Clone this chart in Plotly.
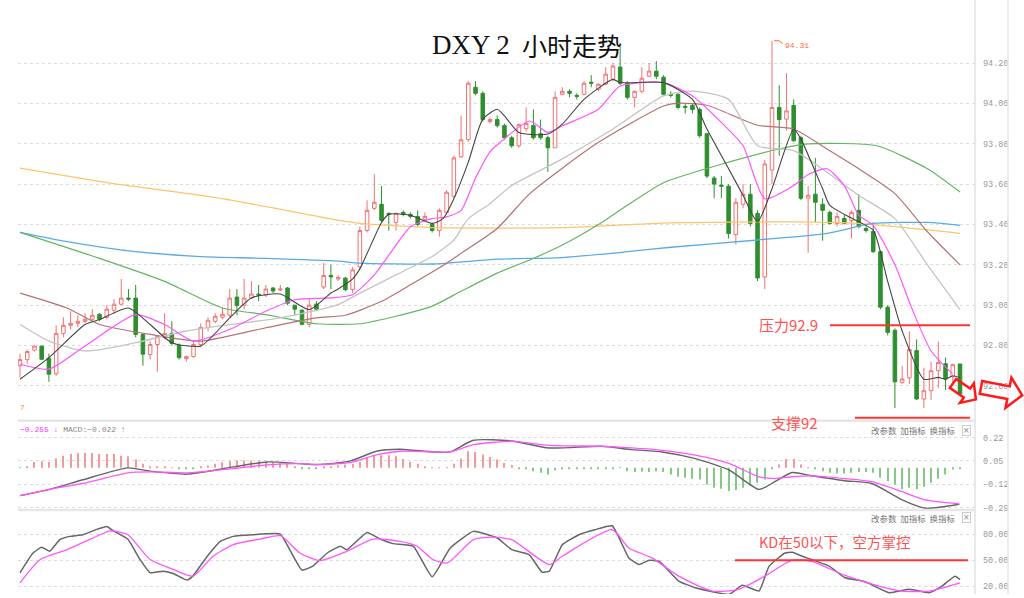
import math
import plotly.graph_objects as go

W, H = 1024, 598

# ---------------- data ----------------
opens = [92.70,92.73,92.777,92.797,92.737,92.66,92.86,92.90,92.91,92.92,
         92.93,92.955,92.94,92.975,93.005,93.035,93.035,92.855,92.755,92.805,
         92.84,92.86,92.80,92.735,92.745,92.805,92.89,92.92,92.94,92.95,
         93.04,93.0,93.035,93.055,93.05,93.085,93.075,93.085,93.0,92.975,
         92.905,93.005,93.09,93.147,93.13,93.134,93.077,93.19,93.37,93.48,
         93.50,93.455,93.41,93.46,93.45,93.44,93.425,93.40,93.37,93.46,
         93.54,93.735,93.82,94.08,94.05,93.91,93.92,93.89,93.83,93.79,
         93.875,93.89,93.85,93.83,93.78,94.045,94.06,94.04,94.045,94.105,
         94.07,94.095,94.12,94.18,94.10,94.03,94.06,94.135,94.16,94.13,
         94.045,94.045,93.985,93.99,93.97,93.85,93.63,93.595,93.59,93.35,
         93.50,93.55,93.455,93.14,93.67,93.98,93.922,93.99,93.83,93.53,
         93.55,93.50,93.46,93.405,93.43,93.42,93.47,93.38,93.365,93.265,
         92.99,92.875,92.617,92.64,92.775,92.535,92.576,92.675,92.71,92.645,
         92.708]
highs = [92.76,92.78,92.80,92.80,92.76,92.90,92.94,92.97,92.95,92.96,
         92.98,92.96,93.00,93.03,93.13,93.08,93.10,92.86,92.82,92.85,
         92.96,92.92,92.81,92.75,92.82,92.91,92.94,92.96,92.99,93.08,
         93.08,93.13,93.12,93.10,93.10,93.09,93.10,93.09,93.0,92.98,
         93.03,93.02,93.21,93.20,93.15,93.14,93.19,93.39,93.52,93.65,
         93.59,93.46,93.46,93.47,93.46,93.47,93.46,93.41,93.48,93.57,
         93.74,93.94,94.11,94.11,94.06,93.93,93.94,93.90,93.84,93.90,
         93.98,93.97,93.92,93.84,94.06,94.08,94.07,94.05,94.11,94.14,
         94.10,94.18,94.20,94.28,94.11,94.065,94.18,94.20,94.21,94.14,
         94.06,94.05,94.0,94.0,93.98,93.85,93.64,93.64,93.60,93.53,
         93.60,93.60,93.47,93.72,94.31,94.09,94.15,94.02,93.84,93.59,
         93.73,93.53,93.47,93.46,93.45,93.47,93.55,93.39,93.41,93.27,
         93.0,92.885,92.70,92.87,92.83,92.69,92.72,92.82,92.74,92.71,
         92.71]
lows = [92.64,92.71,92.77,92.73,92.62,92.65,92.84,92.88,92.89,92.91,
        92.92,92.92,92.93,92.96,93.00,93.02,92.84,92.70,92.73,92.67,
        92.83,92.80,92.73,92.72,92.74,92.79,92.87,92.91,92.93,92.94,
        92.95,92.98,93.03,93.02,93.04,93.06,93.07,93.00,92.95,92.90,
        92.89,92.97,93.08,93.08,93.12,93.07,93.06,93.18,93.36,93.47,
        93.41,93.37,93.37,93.44,93.43,93.39,93.42,93.36,93.34,93.45,
        93.53,93.73,93.81,94.04,93.91,93.90,93.88,93.82,93.78,93.78,
        93.86,93.82,93.82,93.66,93.78,94.04,94.03,94.02,94.04,94.08,
        94.06,94.09,94.11,94.09,94.02,93.98,94.05,94.13,94.12,94.04,
        94.03,93.97,93.95,93.95,93.83,93.63,93.53,93.53,93.33,93.30,
        93.48,93.39,93.12,93.08,93.60,93.74,93.865,93.81,93.52,93.26,
        93.41,93.32,93.40,93.39,93.40,93.33,93.38,93.36,93.26,92.98,
        92.85,92.49,92.61,92.61,92.53,92.49,92.53,92.59,92.58,92.62,
        92.55]
closes = [92.73,92.77,92.797,92.732,92.658,92.86,92.90,92.91,92.92,92.93,
          92.95,92.93,92.98,93.005,93.035,93.03,92.855,92.757,92.805,92.845,
          92.86,92.81,92.74,92.745,92.805,92.89,92.925,92.945,92.955,93.035,
          92.998,93.035,93.055,93.05,93.08,93.07,93.08,93.01,92.98,92.905,
          93.0,92.98,93.147,93.14,93.137,93.077,93.175,93.37,93.47,93.51,
          93.42,93.45,93.455,93.45,93.44,93.40,93.44,93.37,93.47,93.56,
          93.73,93.82,94.10,94.05,93.92,93.92,93.89,93.83,93.79,93.895,
          93.90,93.83,93.83,93.78,94.03,94.06,94.05,94.035,94.10,94.10,
          94.095,94.145,94.185,94.10,94.03,94.06,94.125,94.16,94.135,94.045,
          94.04,93.98,93.98,93.97,93.84,93.64,93.60,93.59,93.355,93.51,
          93.55,93.405,93.135,93.70,93.98,93.92,93.963,93.815,93.53,93.545,
          93.51,93.47,93.405,93.44,93.405,93.46,93.39,93.37,93.265,92.99,
          92.865,92.62,92.634,92.78,92.535,92.576,92.675,92.716,92.634,92.705,
          92.56]

# moving-average lines, (candle index, value)
ma5 = [(0,92.633),(4,92.740),(9,92.904),(11,92.929),(15,92.986),(18,92.904),(21,92.814),
       (25,92.798),(29,92.937),(32,93.036),(36,93.055),(40,92.978),(43,93.060),(44,93.08),
       (46,93.13),(47,93.18),(50,93.41),(51,93.45),(54,93.446),(57,93.405),(58.5,93.429),
       (60,93.528),(62,93.709),(64,93.922),(66,93.971),(67,93.938),(69,93.856),(73,93.848),
       (75,93.897),(78,94.020),(82,94.119),(83,94.103),(89,94.103),(93,94.020),(95,93.873),
       (98,93.676),(100,93.544),(102,93.413),(104,93.577),(107,93.873),(108,93.823),
       (111,93.577),(112,93.495),(116,93.413),(118,93.372),(120,93.118),(122,92.872),
       (125,92.633),(127,92.642),(128,92.633),(129,92.650),(130,92.64)]
ma10 = [(0,92.707),(4,92.683),(9,92.798),(16,92.953),(20,92.904),(24,92.822),(29,92.880),
        (34,92.970),(38,93.027),(43,93.036),(46,93.052),(49,93.150),(52,93.298),(54,93.389),
        (57,93.429),(59,93.438),(61,93.47),(63,93.63),(65,93.76),(66.5,93.81),(70.5,93.913),
        (73,93.856),(75,93.889),(80,93.971),(83,94.086),(89,94.103),(93,94.037),(97,93.906),
        (100,93.790),(103,93.528),(107,93.593),(109,93.648),(111.6,93.676),(114,93.593),
        (116,93.446),(118,93.396),(121,93.200),(123.5,92.970),(126,92.773),(129,92.658)]
ma20 = [(0,92.904),(4,92.822),(9,92.773),(16,92.814),(23,92.872),(29,92.904),(36,92.937),
        (44,93.003),(47,93.060),(52,93.150),(57,93.241),(60,93.323),(62,93.429),(65,93.503),
        (68,93.593),(75,93.725),(82,93.873),(89,94.037),(93,94.061),(98,94.020),(102,93.790),
        (107,93.766),(111.6,93.659),(116,93.544),(121,93.429),(125.5,93.200),(130,92.978)]
ma30 = [(0,93.060),(6.5,92.986),(11,92.904),(18,92.855),(25,92.822),(34,92.888),(41,92.937),
        (45,92.950),(50,93.019),(54,93.101),(59,93.208),(61,93.257),(66,93.380),(70.5,93.553),
        (80,93.807),(89,93.987),(91,94.001),(95,93.991),(102,93.892),(107,93.873),
        (111.6,93.774),(116,93.676),(121,93.553),(125.5,93.364),(130,93.200)]
ma60 = [(0,93.361),(11,93.232),(20,93.118),(28,92.986),(34,92.953),(41,92.908),(47,92.908),
        (52,92.945),(57,92.995),(61,93.069),(66,93.159),(70.5,93.224),(75,93.298),(80,93.400),
        (84,93.495),(89,93.607),(98,93.709),(105,93.774),(109,93.799),(118.5,93.790),
        (125.5,93.676),(130,93.561)]
ma120 = [(0,93.361),(6.5,93.315),(16,93.265),(25,93.241),(34,93.232),(44,93.218),(47,93.208),
         (57,93.204),(66,93.228),(75,93.236),(84,93.265),(90,93.287),(102,93.323),
         (111.6,93.356),(118,93.405),(125.5,93.410),(130,93.396)]
ma250 = [(0,93.679),(13,93.602),(28,93.528),(44,93.421),(47,93.405),(58,93.384),(75,93.384),
         (80,93.392),(90,93.408),(107,93.413),(116,93.405),(130,93.356)]

# MACD panel
macd_hist = [-0.002,0.012,0.043,0.048,0.043,0.068,0.089,0.101,0.109,0.109,
             0.109,0.101,0.101,0.101,0.089,0.085,0.060,0.029,0.012,0.007,
             0.007,0.002,-0.004,-0.004,-0.004,0.007,0.017,0.029,0.041,0.048,
             0.053,0.053,0.053,0.053,0.043,0.041,0.036,0.029,0.012,-0.004,
             -0.004,-0.004,0.007,0.012,0.019,0.024,0.029,0.043,0.072,0.089,
             0.092,0.092,0.085,0.065,0.043,0.029,0.012,0.005,0.002,0.005,
             0.029,0.068,0.121,0.116,0.097,0.080,0.060,0.036,0.020,-0.005,
             -0.003,-0.024,-0.036,-0.048,-0.017,-0.012,-0.007,-0.005,-0.005,-0.005,
             -0.005,-0.005,-0.003,-0.002,-0.024,-0.031,-0.029,-0.031,-0.024,-0.031,
             -0.048,-0.065,-0.072,-0.080,-0.085,-0.121,-0.145,-0.152,-0.169,-0.162,
             -0.145,-0.121,-0.109,-0.085,-0.003,0.024,0.065,0.065,0.024,0.003,
             -0.005,-0.024,-0.036,-0.041,-0.041,-0.036,-0.031,-0.031,-0.036,-0.072,
             -0.097,-0.121,-0.157,-0.145,-0.157,-0.138,-0.109,-0.080,-0.048,-0.012,
             -0.007]
macd_dif = [(0,-0.203),(4.1,-0.157),(8.7,-0.087),(14.9,0.0),(18.0,-0.024),(23.1,-0.046),
            (29.5,0.007),(34.2,0.043),(38.7,0.031),(41.1,0.024),(45.6,0.049),(49.4,0.123),
            (52.6,0.136),(57.1,0.116),(59.5,0.116),(62.7,0.201),(68.0,0.196),(73.2,0.145),
            (80.5,0.157),(84.6,0.133),(88.8,0.116),(93.4,0.067),(98.1,-0.017),(102.2,-0.157),
            (104.4,-0.101),(106.8,-0.034),(109.5,-0.058),(114.1,-0.094),(117.8,-0.114),
            (122.0,-0.234),(125.2,-0.295),(129.9,-0.266)]
macd_dea = [(0,-0.203),(4.1,-0.157),(8.7,-0.114),(14.9,-0.036),(18.0,-0.029),(23.1,-0.036),
            (29.5,-0.005),(34.2,0.022),(38.7,0.031),(41.1,0.024),(45.6,0.038),(49.4,0.096),
            (52.6,0.121),(57.1,0.116),(59.5,0.116),(62.7,0.169),(68.0,0.193),(73.2,0.164),
            (80.5,0.157),(84.6,0.145),(88.8,0.128),(93.4,0.092),(98.1,0.031),(102.2,-0.065),
            (104.4,-0.078),(106.8,-0.065),(109.5,-0.058),(114.1,-0.078),(117.8,-0.101),
            (122.0,-0.174),(125.2,-0.234),(129.9,-0.263)]

# KD panel
kd_k = [(0,35.4),(1.8,58.4),(3.0,65),(4.1,60.4),(5.5,73.9),(6.9,77.7),(8.7,79.6),(10.7,86.1),
        (12.0,89.2),(12.9,84.2),(14.9,74.6),(16.6,50.8),(18.0,35.4),(19.8,37.3),(21.2,34.6),
        (23.1,26.9),(23.9,31.5),(25.9,54.6),(27.7,71.9),(29.5,77.7),(32.2,79.6),(36.0,80.4),
        (37.3,62.3),(39.0,38.5),(40.5,43.1),(42.5,58.4),(44.3,66.2),(45.2,62.3),(48.0,82.3),
        (49.8,74.6),(51.6,69.3),(54.4,66.2),(57.0,30.8),(59.5,64.2),(62.7,83.5),(66.0,75.8),
        (68.0,62.3),(70.4,56.6),(72.2,36.2),(73.2,37.3),(75.0,68.1),(77.3,79.6),(79.5,85.4),
        (81.9,90),(84.2,52.7),(85.6,45.0),(87.0,50),(88.4,48.8),(91.1,25.8),(93.4,18.0),
        (98.1,10.4),(99.9,20.8),(102.2,14.2),(103.6,43.1),(105.8,58.4),(106.8,59.2),
        (108.2,54.6),(111.9,43.1),(114.1,29.6),(116.9,25),(120.2,12.3),(123.0,16.2),
        (125.7,12.3),(127.5,20),(129.3,31.5),(130.0,27.7)]
kd_d = [(0,23.8),(2.8,50.8),(6.5,62.3),(11.1,79.6),(12.4,84.2),(14.9,79.6),(18.0,50.8),
        (21.2,39.3),(23.9,31.5),(26.7,54.6),(29.5,68.1),(33.2,74.6),(36.0,78.5),(38.7,58.4),
        (41.5,49.6),(45.2,60.4),(48.8,74.6),(52.6,71.9),(54.9,66.2),(57.1,50.8),(59.1,46.9),
        (62.7,73.9),(65.4,76.9),(68.0,73.9),(73.2,45),(75.0,54.6),(81.9,85.4),(84.2,64.2),
        (87.4,52.7),(91.1,31.5),(95.7,14.2),(99.4,16.2),(103.0,31.5),(106.8,50),(109.5,48.8),
        (114.1,32.3),(118.8,20),(122.0,14.2),(125.7,14.2),(130.0,23.8)]

main_ticks = [94.2, 94.0, 93.8, 93.6, 93.4, 93.2, 93.0, 92.8, 92.6]
macd_ticks = [0.22, 0.05, -0.12, -0.29]
kd_ticks = [80, 50, 20]
peak_label = "94.31"

# ---------------- layout helpers (pixel -> paper) ----------------
def px(x):
    return x / W

def py(y):
    return 1 - y / H

IDX_PX = 940 / 130.0           # pixel distance between candles
X_LEFT, X_RIGHT = 18, 975      # plot area in pixels
xrange_ = [(X_LEFT - 20) / IDX_PX, (X_RIGHT - 20) / IDX_PX]
idx = list(range(len(opens)))

fig = go.Figure()

def add_line(pairs, color, width=1.0, xa="x", ya="y", smooth=0.6):
    fig.add_trace(go.Scatter(
        x=[p[0] for p in pairs], y=[p[1] for p in pairs], mode="lines",
        line=dict(color=color, width=width, shape="spline", smoothing=smooth),
        hoverinfo="skip", xaxis=xa, yaxis=ya))

add_line(ma250, "#ffc46a", 1.3)
add_line(ma120, "#5aaae6", 1.3)
add_line(ma60, "#62b562", 1.2)

fig.add_trace(go.Candlestick(
    x=idx, open=opens, high=highs, low=lows, close=closes,
    increasing=dict(line=dict(color="#f27272", width=1), fillcolor="#ffffff"),
    decreasing=dict(line=dict(color="#2f8f2f", width=1), fillcolor="#2f8f2f"),
    whiskerwidth=0, hoverinfo="skip", xaxis="x", yaxis="y"))

add_line(ma30, "#b47272", 1.2)
add_line(ma20, "#c4c4c4", 1.3)
add_line(ma10, "#ff55ff", 1.2)
add_line(ma5, "#444444", 1.1)

# MACD
fig.add_trace(go.Bar(
    x=idx, y=macd_hist, width=0.16,
    marker=dict(color=["#f29a9a" if v >= 0 else "#86c986" for v in macd_hist], line=dict(width=0)),
    hoverinfo="skip", xaxis="x2", yaxis="y2"))
add_line(macd_dif, "#666666", 1.4, "x2", "y2")
add_line(macd_dea, "#ff55ff", 1.3, "x2", "y2")

# KD
add_line(kd_k, "#666666", 1.5, "x3", "y3", 0.4)
add_line(kd_d, "#ff55ff", 1.3, "x3", "y3")

def v_main(y):
    return 94.2 - (y - 63.5) / 203.1

def v_macd(y):
    return (471 - y) / 138.0

def v_kd(y):
    return 80 - (y - 538) / 0.86667

tickfont = dict(family="Liberation Mono", size=8.5, color="#999999")
common_y = dict(side="right", showgrid=True, gridcolor="#dcdcdc", griddash="dot", gridwidth=1,
                zeroline=False, showline=False, ticks="", tickfont=tickfont, ticklabelstandoff=7,
                fixedrange=True)
common_x = dict(domain=[px(X_LEFT), px(X_RIGHT)], range=xrange_, visible=False, fixedrange=True)

fig.update_layout(
    width=W, height=H, margin=dict(l=0, r=0, t=0, b=0),
    paper_bgcolor="white", plot_bgcolor="white", showlegend=False,
    xaxis=dict(**common_x, anchor="y", rangeslider=dict(visible=False)),
    xaxis2=dict(**common_x, anchor="y2"),
    xaxis3=dict(**common_x, anchor="y3"),
    yaxis=dict(**common_y, anchor="x", domain=[py(422), 1], range=[v_main(422), v_main(0)],
               tickvals=main_ticks, ticktext=[f"{t:.2f}" for t in main_ticks]),
    yaxis2=dict(**common_y, anchor="x2", domain=[py(513), py(424)], range=[v_macd(513), v_macd(424)],
                tickvals=macd_ticks, ticktext=[f"{t:.2f}".replace("-", "\u2212") for t in macd_ticks]),
    yaxis3=dict(**common_y, anchor="x3", domain=[0, py(515)], range=[v_kd(598), v_kd(515)],
                tickvals=kd_ticks, ticktext=[f"{t:.2f}" for t in kd_ticks]),
    barmode="overlay",
)

shapes = []
shapes.append(dict(type="line", xref="paper", yref="paper", x0=px(975), x1=px(975), y0=0, y1=1,
                   line=dict(color="#e2e2e2", width=1.5)))
shapes.append(dict(type="line", xref="paper", yref="paper", x0=px(1008), x1=px(1008), y0=0, y1=1,
                   line=dict(color="#e6e6e6", width=1.5)))
for yy in (423.5, 513.5):
    shapes.append(dict(type="line", xref="paper", yref="paper", x0=px(18), x1=px(975),
                       y0=py(yy), y1=py(yy), line=dict(color="#e6e6e6", width=2.5)))

RED = "#ff3535"
shapes.append(dict(type="line", xref="paper", yref="y", x0=px(830), x1=px(970), y0=92.9, y1=92.9,
                   line=dict(color=RED, width=2)))
shapes.append(dict(type="line", xref="paper", yref="paper", x0=px(855), x1=px(970),
                   y0=py(420.5), y1=py(420.5), line=dict(color=RED, width=2)))
shapes.append(dict(type="line", xref="paper", yref="y3", x0=px(735), x1=px(968), y0=50, y1=50,
                   line=dict(color=RED, width=2)))

def block_arrow(tx, ty, ang_deg, length, shaft, head, head_len):
    a = math.radians(ang_deg)
    ux, uy = math.cos(a), math.sin(a)
    nx, ny = -uy, ux
    sl = length - head_len
    pts = [(tx + nx * shaft, ty + ny * shaft),
           (tx + ux * sl + nx * shaft, ty + uy * sl + ny * shaft),
           (tx + ux * sl + nx * head, ty + uy * sl + ny * head),
           (tx + ux * length, ty + uy * length),
           (tx + ux * sl - nx * head, ty + uy * sl - ny * head),
           (tx + ux * sl - nx * shaft, ty + uy * sl - ny * shaft),
           (tx - nx * shaft, ty - ny * shaft)]
    return "M " + " L ".join(f"{px(x):.5f},{py(y):.5f}" for x, y in pts) + " Z"

shapes.append(dict(type="path", xref="paper", yref="paper",
                   path=block_arrow(953, 386, 35, 28, 5.5, 12, 11),
                   line=dict(color="#ff1a1a", width=2.5), fillcolor="rgba(0,0,0,0)"))
shapes.append(dict(type="path", xref="paper", yref="paper",
                   path=block_arrow(981, 390, 11, 42, 6.5, 15.5, 14),
                   line=dict(color="#ff1a1a", width=2.5), fillcolor="rgba(0,0,0,0)"))
shapes.append(dict(type="path", xref="paper", yref="paper",
                   path=f"M {px(774):.5f},{py(41):.5f} L {px(779):.5f},{py(41):.5f} L {px(783):.5f},{py(44):.5f}",
                   line=dict(color="#ff6a3d", width=1)))
fig.update_layout(shapes=shapes)

ann = []
def add_text(x, y, text, size, color, family="Noto Sans CJK SC", xanchor="left", **kw):
    ann.append(dict(xref="paper", yref="paper", x=px(x), y=py(y), text=text, showarrow=False,
                    xanchor=xanchor, yanchor="middle", font=dict(family=family, size=size, color=color), **kw))

add_text(430, 45, "DXY 2", 27, "#111111", family="Liberation Serif")
add_text(520, 45, "小时走势", 25, "#111111")
add_text(783, 46, peak_label, 8, "#ff6a3d", family="Liberation Mono")
add_text(820, 327, "压力92.9", 15, "#ff5252", xanchor="right")
add_text(820, 425, "支撑92", 15, "#ff5252", xanchor="right")
add_text(757, 545, "KD在50以下，空方掌控", 14.5, "#ff5252")
add_text(18, 410, "7", 8, "#ff8c40", family="Liberation Mono")
add_text(18, 432, '<span style="color:#ff33ff">\u22120.255 \u2193</span> '
                  '<span style="color:#888888">MACD:\u22120.022 \u2191</span>',
         8, "#888888", family="Liberation Mono")
for yy in (433, 521):
    add_text(869, yy, "改参数  加指标  换指标", 8.5, "#777777")
    add_text(966, yy, "×", 8, "#888888", family="DejaVu Sans", xanchor="center",
             bordercolor="#cccccc", borderwidth=1, borderpad=0)
fig.update_layout(annotations=ann)

fig.write_html("out.html", config={"displayModeBar": False},
               post_script="document.body.style.margin='0';document.body.style.padding='0';")
